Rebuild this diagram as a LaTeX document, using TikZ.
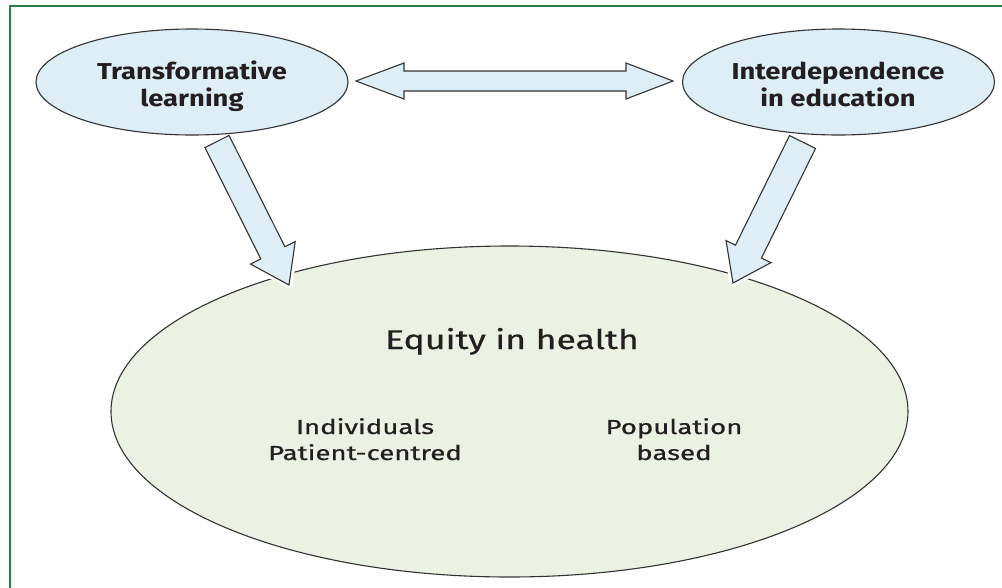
\documentclass[tikz,border=0pt]{standalone}
\usepackage{fontspec}
\setmainfont{Fira Sans}
\newfontfamily\topfont{Fira Sans}[FakeStretch=1.19]
\newfontfamily\eqfont{Fira Sans}[FakeStretch=1.32,FakeBold=0.6]
\newfontfamily\subfont{Fira Sans}[FakeStretch=1.36,FakeBold=0.6]
\usetikzlibrary{shapes.geometric,calc}
\definecolor{framegreen}{HTML}{2A7F45}
\definecolor{bluefill}{HTML}{DDEEF7}
\definecolor{greenfill}{HTML}{EBF1E3}
\definecolor{ink}{HTML}{231F20}
\definecolor{edge}{HTML}{333333}
\tikzset{
  smallell/.style={ellipse, draw=edge, line width=1.1pt, fill=bluefill, inner sep=0pt,
    minimum width=312pt, minimum height=106pt},
  bigell/.style={ellipse, draw=edge, line width=1.1pt, fill=greenfill, inner sep=0pt,
    minimum width=797pt, minimum height=331pt},
  toplabel/.style={text=ink, align=center, inner sep=0pt,
    font=\topfont\fontsize{23}{27}\selectfont\bfseries},
  blockarrow/.style={draw=edge, line width=1.1pt, fill=bluefill, line join=miter},
  halo/.style={draw=white, line width=7pt, line join=round},
  bigtext/.style={text=ink, font=\eqfont\fontsize{27}{32}\selectfont, inner sep=0pt},
  subtext/.style={text=ink, align=center, font=\subfont\fontsize{20.3}{26}\selectfont, inner sep=0pt},
}
\begin{document}
\begin{tikzpicture}[x=1pt,y=-1pt]
\clip (0,0) rectangle (1002,587);
\fill[white] (0,0) rectangle (1002,587);
\draw[framegreen, line width=2pt] (10,6) rectangle (1040,640);

% big ellipse
\node[bigell] (eq) at (509.5,411.5) {};
\node[bigtext, anchor=base] (eqt) at (512,349) {Equity in health};
\node[subtext, anchor=base] (ind) at (365,460) {Individuals\\Patient-centred};
\node[subtext, anchor=base] (pop) at (674,460) {Population\\based};

% small ellipses
\node[smallell] (tl) at (192,82) {};
\node[toplabel, anchor=base] (tlt) at (192,106) {Transformative\\learning};
\node[smallell] (ie) at (838.5,82) {};
\node[toplabel, anchor=base] (iet) at (838,106) {Interdependence\\in education};

% double arrow between the ellipses
\coordinate (dL) at (356,81);
\coordinate (dR) at (673,81);
\path[blockarrow]
  (dL) -- (404,63) -- (404,71) -- (626,71) -- (626,63) -- (dR)
  -- (626,99) -- (626,91) -- (404,91) -- (404,99) -- cycle;

% left down arrow
\coordinate (aT) at (217,141.5);
\coordinate (aH) at (289,285);
\coordinate (aB) at ($(aH)!36pt!(aT)$);
\path[halo]
  ($(aB)!25pt!90:(aH)$) -- (aH) -- ($(aB)!25pt!-90:(aH)$);
\path[blockarrow]
  ($(aT)!13.5pt!90:(aH)$) -- ($(aB)!13.5pt!90:(aH)$) -- ($(aB)!25pt!90:(aH)$) -- (aH)
  -- ($(aB)!25pt!-90:(aH)$) -- ($(aB)!13.5pt!-90:(aH)$) -- ($(aT)!13.5pt!-90:(aH)$) -- cycle;

% right down arrow
\coordinate (bT) at (802.5,142);
\coordinate (bH) at (733,283);
\coordinate (bB) at ($(bH)!35pt!(bT)$);
\path[halo]
  ($(bB)!25pt!90:(bH)$) -- (bH) -- ($(bB)!25pt!-90:(bH)$);
\path[blockarrow]
  ($(bT)!14.5pt!90:(bH)$) -- ($(bB)!14.5pt!90:(bH)$) -- ($(bB)!25pt!90:(bH)$) -- (bH)
  -- ($(bB)!25pt!-90:(bH)$) -- ($(bB)!14.5pt!-90:(bH)$) -- ($(bT)!14.5pt!-90:(bH)$) -- cycle;
\end{tikzpicture}
\end{document}
